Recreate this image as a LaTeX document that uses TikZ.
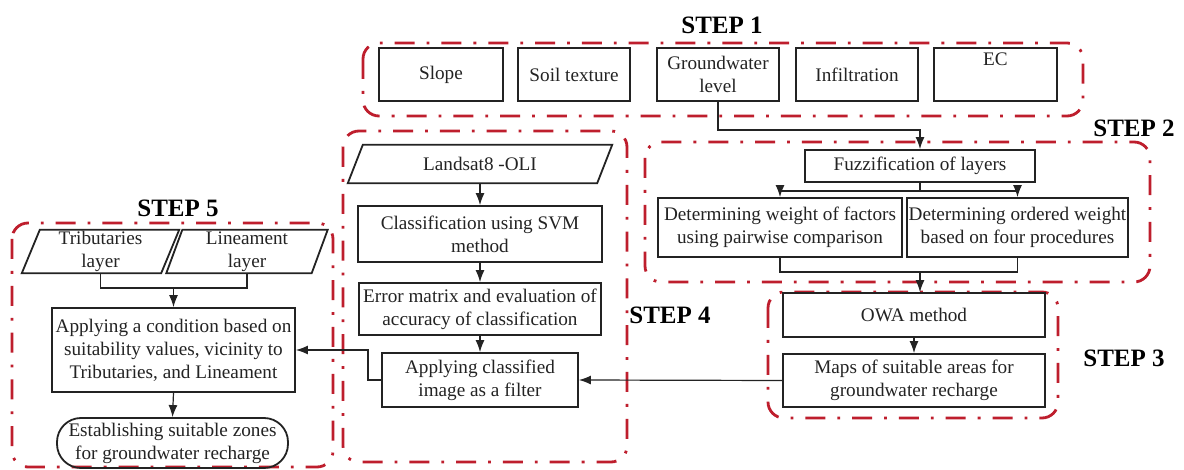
\documentclass[tikz,border=0pt]{standalone}
\usepackage{fontspec}
\setmainfont{Liberation Serif}
\usetikzlibrary{arrows.meta}
\definecolor{stepred}{RGB}{190,30,45}
\definecolor{ink}{RGB}{35,35,35}
\begin{document}
\begin{tikzpicture}[x=1pt,y=-1pt,
 every node/.style={font=\fontsize{19.2}{23}\selectfont, text=ink, align=center, inner sep=0pt},
 proc/.style={draw=ink, line width=1.8pt},
 term/.style={draw=ink, line width=1.8pt, rounded corners=24pt},
 conn/.style={draw=ink, line width=1.2pt},
 arr/.style={conn, -{Latex[length=12pt,width=9pt]}},
 stepframe/.style={draw=stepred, line width=2.8pt, rounded corners=16pt, dash pattern=on 20pt off 12pt on 2.8pt off 12pt},
 steplabel/.style={font=\fontsize{25}{28}\bfseries\selectfont, text=black}
]
\useasboundingbox (0,0) rectangle (1184,470);
\fill[white] (0,0) rectangle (1184,470);

% step frames
\draw[stepframe] (363,43) rectangle (1083,116);
\draw[stepframe] (645,142) rectangle (1150,282);
\draw[stepframe] (768,292) rectangle (1058,418);
\draw[stepframe] (343,131) rectangle (627,462);
\draw[stepframe] (12,223) rectangle (333,467);

% step labels
\node[steplabel] (l1) at (722,25) {STEP 1};
\node[steplabel] (l2) at (1134,128) {STEP 2};
\node[steplabel] (l3) at (1124,358) {STEP 3};
\node[steplabel] (l4) at (670,315) {STEP 4};
\node[steplabel] (l5) at (178,208) {STEP 5};

% step 1
\node[proc, minimum width=124pt, minimum height=53pt] (slope) at (441,74.5) {Slope};
\node[proc, minimum width=112pt, minimum height=53pt] (soil) at (574,74.5) {Soil texture};
\node[proc, minimum width=122pt, minimum height=53pt] (gw) at (718,74.5) {Groundwater\\level};
\node[proc, minimum width=122pt, minimum height=53pt] (inf) at (857,74.5) {Infiltration};
\node[proc, minimum width=123pt, minimum height=53pt] (ec) at (995.5,74.5) {EC\\\strut};

% step 2
\node[proc, minimum width=230pt, minimum height=32pt] (fuzz) at (920,166) {Fuzzification of layers};
\node[proc, minimum width=244pt, minimum height=59pt] (dw1) at (780,227.5) {Determining weight of factors\\using pairwise comparison};
\node[proc, minimum width=221pt, minimum height=59pt] (dw2) at (1017.5,227.5) {Determining ordered weight\\based on four procedures};

% step 3
\node[proc, minimum width=262pt, minimum height=44pt] (owa) at (914,315) {OWA method};
\node[proc, minimum width=262pt, minimum height=53pt] (maps) at (914,380.5) {Maps of suitable areas for\\groundwater recharge};

% step 4
\node[minimum width=249pt, minimum height=38pt] (landsat) at (480,164) {Landsat8 -OLI};
\draw[proc] ([xshift=7.5pt]landsat.north west) -- ([xshift=7.5pt]landsat.north east) -- ([xshift=-7.5pt]landsat.south east) -- ([xshift=-7.5pt]landsat.south west) -- cycle;
\node[proc, minimum width=244pt, minimum height=56pt] (svm) at (480,234) {Classification using SVM\\method};
\node[proc, minimum width=242pt, minimum height=52pt] (err) at (480,309) {Error matrix and evaluation of\\accuracy of classification};
\node[proc, minimum width=196pt, minimum height=54pt] (filt) at (480,380) {Applying classified\\image as a filter};

% step 5
\node[minimum width=139pt, minimum height=43pt] (trib) at (100.5,251.5) {Tributaries\\layer};
\draw[proc] ([xshift=9pt]trib.north west) -- ([xshift=9pt]trib.north east) -- ([xshift=-9pt]trib.south east) -- ([xshift=-9pt]trib.south west) -- cycle;
\node[minimum width=145pt, minimum height=43pt] (lin) at (247,251.5) {Lineament\\layer};
\draw[proc] ([xshift=8pt]lin.north west) -- ([xshift=8pt]lin.north east) -- ([xshift=-8pt]lin.south east) -- ([xshift=-8pt]lin.south west) -- cycle;
\node[proc, minimum width=243pt, minimum height=84pt] (cond) at (173.5,350) {Applying a condition based on\\suitability values, vicinity to\\Tributaries, and Lineament};
\node[term, minimum width=231pt, minimum height=50pt] (estab) at (172.5,443) {Establishing suitable zones\\for groundwater recharge};

% junction coordinates
\coordinate (j1) at (0,130);
\coordinate (j2) at (0,191);
\coordinate (j3) at (0,272);
\coordinate (j4) at (368,0);
\coordinate (j5) at (0,288);

% connectors
\draw[arr] (gw.south) -- (gw.south |- j1) -| (fuzz.north);
\draw[conn] (fuzz.south) -- (fuzz.south |- j2);
\draw[arr] (fuzz.south |- j2) -| (dw1.north);
\draw[arr] (fuzz.south |- j2) -| (dw2.north);
\draw[conn] (dw1.south) -- (dw1.south |- j3) -- (dw2.south |- j3) -- (dw2.south);
\draw[arr] (fuzz.south |- j3) -- (owa.north -| fuzz.south);
\draw[arr] (owa.south) -- (maps.north);
\draw[arr] (maps.west) -- (filt.east);
\draw[arr] (landsat.south) -- (svm.north);
\draw[arr] (svm.south) -- (err.north);
\draw[arr] (err.south) -- (filt.north);
\draw[arr] (filt.west) -- (filt.west -| j4) |- (cond.east);
\draw[conn] (trib.south) -- (trib.south |- j5) -- (lin.south |- j5) -- (lin.south);
\draw[arr] (cond.north |- j5) -- (cond.north);
\draw[arr] (cond.south) -- (estab.north);
\end{tikzpicture}
\end{document}
